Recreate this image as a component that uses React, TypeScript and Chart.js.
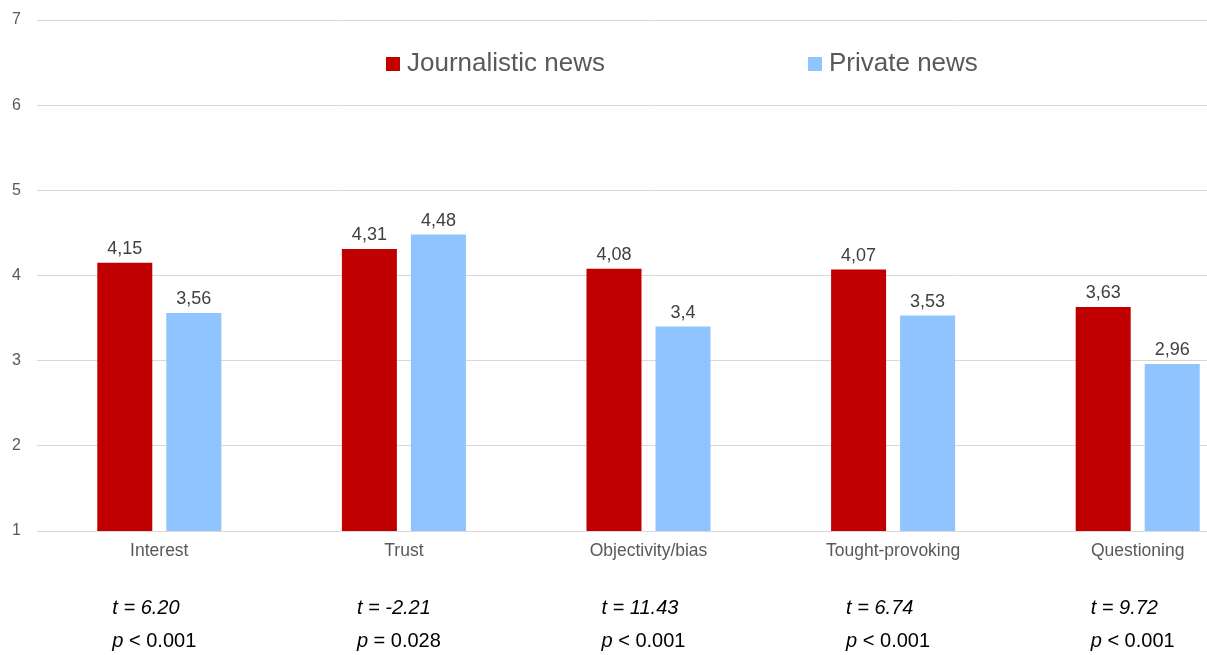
import React, { useEffect, useRef } from "react";
import { Chart, registerables } from "chart.js";

Chart.register(...registerables);

const categories = ["Interest", "Trust", "Objectivity/bias", "Tought-provoking", "Questioning"];
const journalisticValues = [4.15, 4.31, 4.08, 4.07, 3.63];
const privateValues = [3.56, 4.48, 3.4, 3.53, 2.96];
const tStats = ["t = 6.20", "t = -2.21", "t = 11.43", "t = 6.74", "t = 9.72"];
const pStats = ["< 0.001", "= 0.028", "< 0.001", "< 0.001", "< 0.001"];
const seriesNames = ["Journalistic news", "Private news"];
const seriesColors = ["#C00000", "#8FC4FF"];
const yTicks = [1, 2, 3, 4, 5, 6, 7];

const FONT = "'Liberation Sans', Arial, sans-serif";

const valueLabelPlugin = {
  id: "valueLabels",
  afterDatasetsDraw(chart: any) {
    const ctx = chart.ctx;
    ctx.save();
    ctx.font = `18px ${FONT}`;
    ctx.fillStyle = "#404040";
    ctx.textAlign = "center";
    ctx.textBaseline = "alphabetic";
    chart.data.datasets.forEach((ds: any, di: number) => {
      const meta = chart.getDatasetMeta(di);
      meta.data.forEach((el: any, i: number) => {
        const txt = String(ds.data[i]).replace(".", ",");
        ctx.fillText(txt, el.x, el.y - 9);
      });
    });
    ctx.restore();
  },
};

const statsPlugin = {
  id: "stats",
  afterDraw(chart: any) {
    const ctx = chart.ctx;
    const xs = chart.scales.x;
    ctx.save();
    ctx.fillStyle = "#000";
    ctx.textAlign = "left";
    ctx.textBaseline = "alphabetic";
    categories.forEach((_, i) => {
      const x = xs.getPixelForValue(i) - 47;
      ctx.font = `italic 20px ${FONT}`;
      ctx.fillText(tStats[i], x, 614);
      ctx.fillText("p", x, 647);
      const w = ctx.measureText("p").width;
      ctx.font = `20px ${FONT}`;
      ctx.fillText(" " + pStats[i], x + w, 647);
    });
    ctx.restore();
  },
};

const legendPlugin = {
  id: "customLegend",
  afterDraw(chart: any) {
    const ctx = chart.ctx;
    const starts = [386, 808];
    ctx.save();
    ctx.font = `26px ${FONT}`;
    ctx.textAlign = "left";
    ctx.textBaseline = "middle";
    chart.data.datasets.forEach((ds: any, i: number) => {
      const x = starts[i];
      ctx.fillStyle = ds.backgroundColor;
      ctx.fillRect(x, 57, 14, 14);
      ctx.fillStyle = "#595959";
      ctx.fillText(ds.label, x + 21, 64);
    });
    ctx.restore();
  },
};

export default function App() {
  const ref = useRef<HTMLCanvasElement>(null);
  useEffect(() => {
    if (!ref.current) return;
    const chart = new Chart(ref.current, {
      type: "bar",
      data: {
        labels: categories,
        datasets: [
          {
            label: seriesNames[0],
            data: journalisticValues,
            backgroundColor: seriesColors[0],
            barPercentage: 0.797,
            categoryPercentage: 0.5644,
          },
          {
            label: seriesNames[1],
            data: privateValues,
            backgroundColor: seriesColors[1],
            barPercentage: 0.797,
            categoryPercentage: 0.5644,
          },
        ],
      },
      options: {
        responsive: false,
        animation: false,
        layout: { padding: { left: 12, top: 20, right: 0, bottom: 94 } },
        plugins: {
          legend: { display: false },
          tooltip: { enabled: false },
        },
        scales: {
          x: {
            grid: { display: false, drawTicks: false },
            border: { display: false },
            ticks: { font: { family: FONT, size: 17.5 }, color: "#595959", padding: 10 },
            afterFit: (scale: any) => {
              scale.height = 30;
            },
          },
          y: {
            min: yTicks[0],
            max: yTicks[yTicks.length - 1],
            afterBuildTicks: (scale: any) => {
              scale.ticks = yTicks.map((v) => ({ value: v }));
            },
            grid: { color: "#D9D9D9", drawTicks: false, lineWidth: 1 },
            border: { display: false },
            ticks: { font: { family: FONT, size: 16 }, color: "#595959", padding: 16 },
            afterFit: (scale: any) => {
              scale.width = 25;
              scale.paddingTop = 0;
              scale.paddingBottom = 0;
            },
          },
        },
      },
      plugins: [valueLabelPlugin, statsPlugin, legendPlugin],
    });
    return () => chart.destroy();
  }, []);
  return (
    <div
      style={{
        position: "fixed",
        left: 0,
        top: 0,
        width: 1207,
        height: 655,
        overflow: "hidden",
        background: "#fff",
      }}
    >
      <canvas ref={ref} width={1260} height={655} style={{ display: "block" }} />
    </div>
  );
}
